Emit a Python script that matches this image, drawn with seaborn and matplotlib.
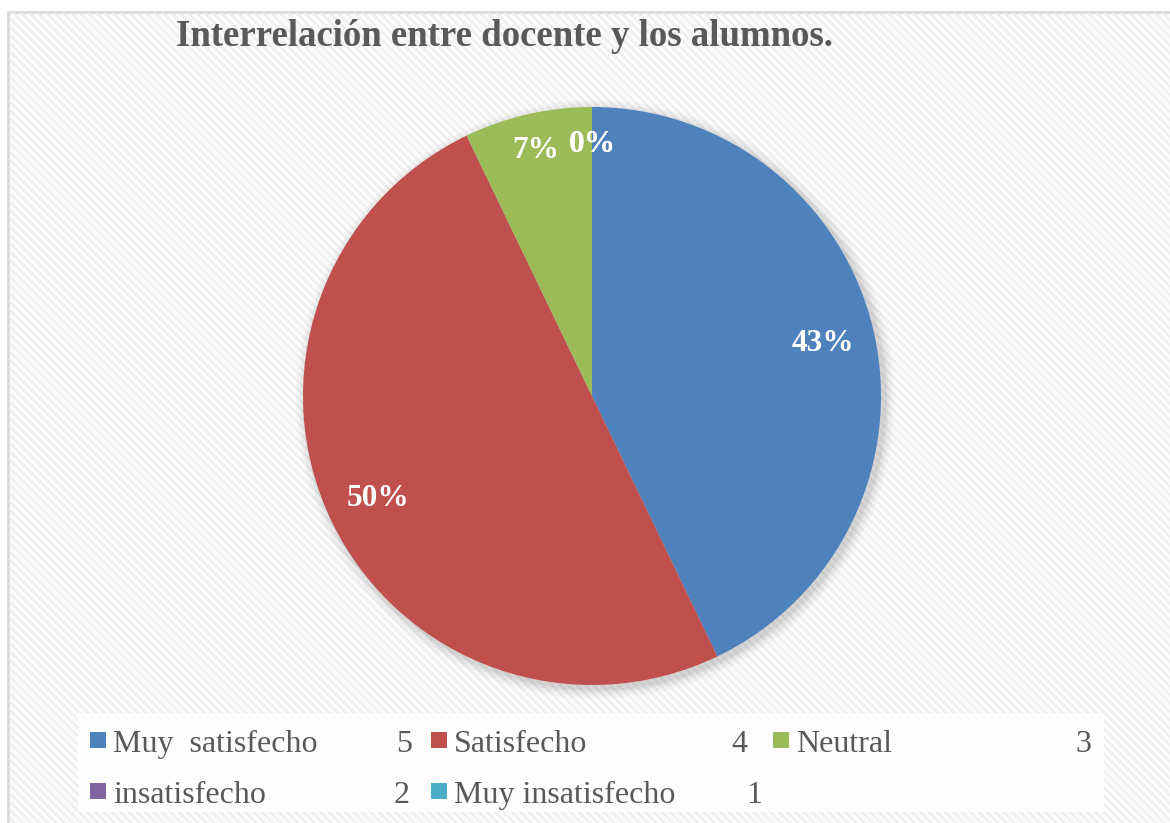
import numpy as np
import matplotlib
matplotlib.use("Agg")
import matplotlib.pyplot as plt
from matplotlib.patches import Rectangle, Circle
import seaborn as sns

# ---- data ----
categories = ["Muy  satisfecho", "Satisfecho", "Neutral", "insatisfecho", "Muy insatisfecho"]
codes = [5, 4, 3, 2, 1]
counts = [6, 7, 1, 0, 0]
colors = ["#4F81BD", "#C0504D", "#9BBB59", "#8064A2", "#4BACC6"]
title = "Interrelación entre docente y los alumnos."

sns.set_theme(style="white")
plt.rcParams["font.family"] = ["Liberation Serif", "DejaVu Serif"]
plt.rcParams["hatch.linewidth"] = 1.6
palette = sns.color_palette(colors)

W, H = 1170, 823
fig = plt.figure(figsize=(W / 100, H / 100), dpi=100)
fig.patch.set_facecolor("white")

def fx(px):
    return px / W

def fy(py):
    return 1 - py / H

# chart area background with diagonal stripes and border
bg = Rectangle((fx(8), fy(830)), fx(1180) - fx(8), fy(12) - fy(830),
               transform=fig.transFigure, facecolor="#fbfbfb",
               edgecolor="#d9d9d9", linewidth=2, zorder=-3)
fig.patches.append(bg)
hatch = Rectangle((fx(9), fy(830)), fx(1180) - fx(9), fy(13) - fy(830),
                  transform=fig.transFigure, facecolor="none",
                  edgecolor="#eeeeee", hatch="\\\\\\\\", linewidth=0, zorder=-2)
fig.patches.append(hatch)

# title
fig.text(fx(505), fy(37), title, ha="center", va="center",
         fontsize=26.5, fontweight="bold", color="#595959")

# pie
cx, cy, r = 592, 396, 289
ax = fig.add_axes([fx(cx - r), fy(cy + r), fx(2 * r), fy(cy - r) - fy(cy + r)])
ax.set_facecolor("none")
ax.set_zorder(0)

# soft shadow
for k, a in zip([1.035, 1.025, 1.015, 1.007], [0.025, 0.035, 0.045, 0.05]):
    ax.add_patch(Circle((0.012, -0.012), k, facecolor="black", alpha=a,
                        edgecolor="none", zorder=0, clip_on=False))

wedges, texts, autotexts = ax.pie(
    counts, colors=palette, startangle=90, counterclock=False,
    autopct="%.0f%%", pctdistance=0.82, radius=1,
    wedgeprops=dict(linewidth=0, edgecolor="none"),
    textprops=dict(color="white", fontsize=22.5, fontweight="bold"),
)
for w in wedges:
    w.set_zorder(2)
total = sum(counts)
for t, v in zip(autotexts, counts):
    t.set_zorder(3)
    if v / total < 0.1:
        x, y = t.get_position()
        t.set_position((x * 0.87 / 0.82, y * 0.87 / 0.82))
ax.set_xlim(-1, 1)
ax.set_ylim(-1, 1)
ax.set_aspect("auto")
ax.axis("off")

# legend box
lg = Rectangle((fx(78), fy(812)), fx(1104) - fx(78), fy(713) - fy(812),
               transform=fig.transFigure, facecolor="white", alpha=0.85,
               edgecolor="none", zorder=1)
fig.patches.append(lg)

sq_x = [90, 431, 773, 90, 431]
row_y = [740, 740, 740, 791, 791]
num_x = [412, 747, 1091, 410, 762]
sq = 16
for i, (cat, code) in enumerate(zip(categories, codes)):
    x0, yc = sq_x[i], row_y[i]
    fig.patches.append(Rectangle((fx(x0), fy(yc + sq / 2)), fx(sq), fy(0) - fy(sq),
                                 transform=fig.transFigure, facecolor=palette[i],
                                 edgecolor="none", zorder=2))
    fig.text(fx(x0 + 23), fy(yc + 1), cat, ha="left", va="center_baseline",
             fontsize=23, color="#595959", zorder=3)
    fig.text(fx(num_x[i]), fy(yc + 1), str(code), ha="right", va="center_baseline",
             fontsize=23, color="#595959", zorder=3)

fig.savefig("out.png", dpi=100)
